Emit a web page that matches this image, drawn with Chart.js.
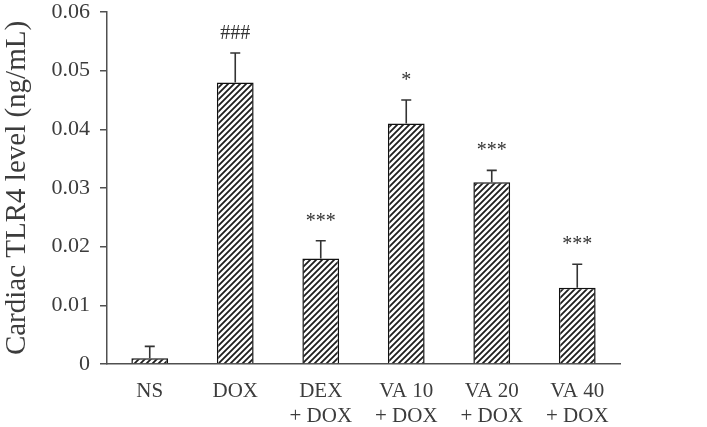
<!DOCTYPE html>
<html>
<head>
<meta charset="utf-8">
<script src="https://cdn.jsdelivr.net/npm/chart.js@4/dist/chart.umd.min.js"></script>
<style>
  html, body { margin: 0; padding: 0; background: #ffffff; }
  #wrap { width: 707px; height: 427px; position: relative; }
</style>
</head>
<body>
<div id="wrap"><canvas id="c" width="707" height="427"></canvas></div>
<script>
const categories = [['NS'], ['DOX'], ['DEX', '+ DOX'], ['VA 10', '+ DOX'], ['VA 20', '+ DOX'], ['VA 40', '+ DOX']];
const meanValues = [0.001, 0.048, 0.018, 0.041, 0.031, 0.013];
const errorValues = [0.002, 0.005, 0.003, 0.004, 0.002, 0.004];
const significance = ['', '###', '***', '*', '***', '***'];
const yTickValues = [0, 0.01, 0.02, 0.03, 0.04, 0.05, 0.06];
const yTitle = 'Cardiac TLR4 level (ng/mL)';

const SERIF = "'Liberation Serif', 'Times New Roman', serif";
const TEXT = '#3c3c3c';
const AXIS = '#505050';

function makeHatch() {
  const s = 6;
  const t = document.createElement('canvas');
  t.width = s; t.height = s;
  const g = t.getContext('2d');
  g.fillStyle = '#ffffff';
  g.fillRect(0, 0, s, s);
  g.strokeStyle = '#1e1e1e';
  g.lineWidth = 1.8;
  g.beginPath();
  g.moveTo(-1, s + 1); g.lineTo(s + 1, -1);
  g.moveTo(-1, 1); g.lineTo(1, -1);
  g.moveTo(s - 1, s + 1); g.lineTo(s + 1, s - 1);
  g.stroke();
  return document.getElementById('c').getContext('2d').createPattern(t, 'repeat');
}

const errorBarPlugin = {
  id: 'errorBars',
  afterDatasetsDraw(chart) {
    const ctx = chart.ctx;
    const meta = chart.getDatasetMeta(0);
    const y = chart.scales.y;
    ctx.save();
    meta.data.forEach((bar, i) => {
      const x = bar.x;
      const yTop = y.getPixelForValue(meanValues[i] + errorValues[i]);
      const yBar = y.getPixelForValue(meanValues[i]);
      ctx.strokeStyle = '#333333';
      ctx.lineWidth = 1.6;
      ctx.beginPath();
      ctx.moveTo(x, yBar);
      ctx.lineTo(x, yTop);
      ctx.moveTo(x - 5, yTop);
      ctx.lineTo(x + 5, yTop);
      ctx.stroke();
      if (significance[i]) {
        ctx.fillStyle = '#333333';
        ctx.font = '20px ' + SERIF;
        ctx.textAlign = 'center';
        ctx.textBaseline = 'alphabetic';
        ctx.fillText(significance[i], x, yTop - 14);
      }
    });
    ctx.restore();
  }
};

new Chart(document.getElementById('c'), {
  type: 'bar',
  data: {
    labels: categories,
    datasets: [{
      data: meanValues,
      backgroundColor: makeHatch(),
      borderColor: '#111111',
      borderWidth: 1.5,
      borderSkipped: 'bottom',
      categoryPercentage: 1.0,
      barPercentage: 0.43
    }]
  },
  options: {
    responsive: false,
    animation: false,
    devicePixelRatio: 1,
    layout: { padding: { top: 0, right: 87, bottom: 0, left: 0 } },
    plugins: { legend: { display: false }, tooltip: { enabled: false } },
    scales: {
      x: {
        grid: { display: false, drawTicks: false },
        border: { display: true, color: AXIS, width: 1.5 },
        ticks: { color: TEXT, font: { family: SERIF, size: 21 }, padding: 15, maxRotation: 0, autoSkip: false },
        afterFit(scale) { scale.height = 63; }
      },
      y: {
        min: 0,
        max: 0.06,
        afterBuildTicks(scale) { scale.ticks = yTickValues.map(v => ({ value: v })); },
        grid: { drawOnChartArea: false, drawTicks: true, tickLength: 7, color: AXIS, lineWidth: 1.5 },
        border: { display: true, color: AXIS, width: 1.5 },
        ticks: {
          color: TEXT,
          font: { family: SERIF, size: 22 },
          padding: 10,
          callback: v => (v === 0 ? '0' : Number(v).toFixed(2))
        },
        title: { display: true, text: yTitle, color: TEXT, font: { family: SERIF, size: 29 }, padding: { top: 0, bottom: 0 } },
        afterFit(scale) { scale.width = 107; scale.paddingTop = 12; scale.paddingBottom = 0; }
      }
    }
  },
  plugins: [errorBarPlugin]
});
</script>
</body>
</html>
